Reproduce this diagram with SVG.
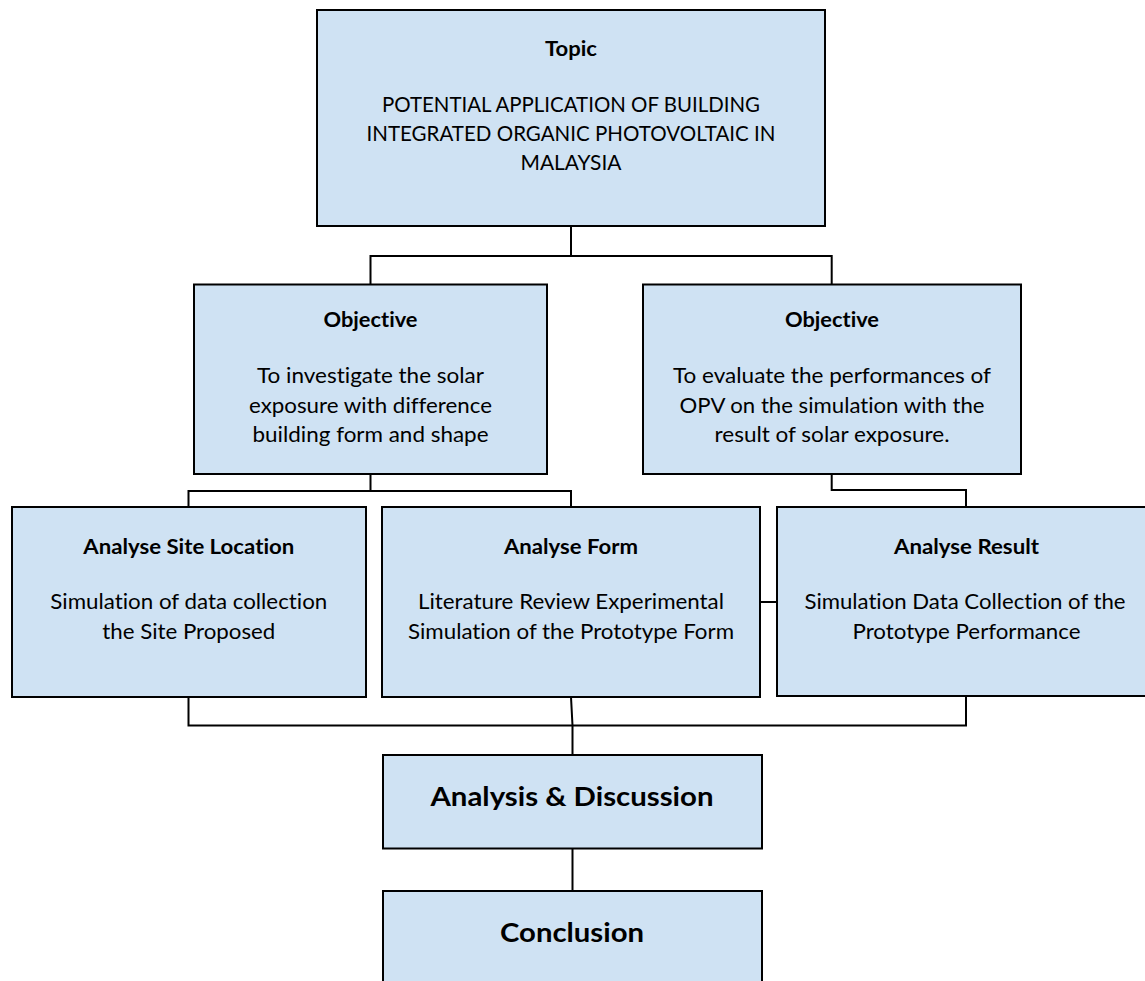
<svg xmlns="http://www.w3.org/2000/svg" width="1145" height="981" viewBox="0 0 1145 981">
<style>
.box{fill:#cfe2f3;stroke:#000;stroke-width:2}
.con{fill:none;stroke:#000;stroke-width:2}
text{font-family:Lato,"Open Sans","Liberation Sans",sans-serif;fill:#000;text-anchor:middle;font-variant-ligatures:none}
.t{font-weight:bold;font-size:21.5px}
.b{font-size:22px}
.big{font-weight:bold;font-size:27px}
</style>
<rect width="1145" height="981" fill="#fff"/>
<g id="connectors">
<path class="con" d="M571,226V256M370.5,284V256H831.7V284"/>
<path class="con" d="M370.5,474V491M188.5,507V491H571V507"/>
<path class="con" d="M831.7,474V490H966V507"/>
<path class="con" d="M760,602H777"/>
<path class="con" d="M188.5,697V725.5H966V697"/>
<path class="con" d="M571,697L572.5,725.5V755"/>
<path class="con" d="M572.5,848.5V891"/>
</g>
<g id="topic">
<rect class="box" x="317" y="10" width="508" height="216"/>
<text class="t" x="571" y="56" textLength="52" lengthAdjust="spacingAndGlyphs">Topic</text>
<text class="b" x="571" y="112" textLength="378" lengthAdjust="spacingAndGlyphs">POTENTIAL APPLICATION OF BUILDING</text>
<text class="b" x="571" y="141.3" textLength="409" lengthAdjust="spacingAndGlyphs">INTEGRATED ORGANIC PHOTOVOLTAIC IN</text>
<text class="b" x="571" y="170" textLength="101" lengthAdjust="spacingAndGlyphs">MALAYSIA</text>
</g>
<g id="objective1">
<rect class="box" x="194" y="284.5" width="353" height="189.5"/>
<text class="t" x="370.5" y="327.3" textLength="94" lengthAdjust="spacingAndGlyphs">Objective</text>
<text class="b" x="370.5" y="383.3" textLength="227" lengthAdjust="spacingAndGlyphs">To investigate the solar</text>
<text class="b" x="370.5" y="412.7" textLength="243" lengthAdjust="spacingAndGlyphs">exposure with difference</text>
<text class="b" x="370.5" y="442.3" textLength="236" lengthAdjust="spacingAndGlyphs">building form and shape</text>
</g>
<g id="objective2">
<rect class="box" x="643" y="284.5" width="378" height="189.5"/>
<text class="t" x="832" y="327.3" textLength="94" lengthAdjust="spacingAndGlyphs">Objective</text>
<text class="b" x="832" y="383.3" textLength="318" lengthAdjust="spacingAndGlyphs">To evaluate the performances of</text>
<text class="b" x="832" y="412.7" textLength="305" lengthAdjust="spacingAndGlyphs">OPV on the simulation with the</text>
<text class="b" x="832" y="442.3" textLength="235" lengthAdjust="spacingAndGlyphs">result of solar exposure.</text>
</g>
<g id="site">
<rect class="box" x="12" y="507" width="354" height="190"/>
<text class="t" x="188.8" y="554.3" textLength="211" lengthAdjust="spacingAndGlyphs">Analyse Site Location</text>
<text class="b" x="188.8" y="609.3" textLength="277" lengthAdjust="spacingAndGlyphs">Simulation of data collection</text>
<text class="b" x="188.8" y="639.3" textLength="173" lengthAdjust="spacingAndGlyphs">the Site Proposed</text>
</g>
<g id="form">
<rect class="box" x="382" y="507" width="378" height="190"/>
<text class="t" x="571" y="554.3" textLength="134" lengthAdjust="spacingAndGlyphs">Analyse Form</text>
<text class="b" x="571" y="609.3" textLength="306" lengthAdjust="spacingAndGlyphs">Literature Review Experimental</text>
<text class="b" x="571" y="639.3" textLength="326" lengthAdjust="spacingAndGlyphs">Simulation of the Prototype Form</text>
</g>
<g id="result">
<rect class="box" x="777" y="507" width="378" height="189"/>
<text class="t" x="966.5" y="554.3" textLength="145" lengthAdjust="spacingAndGlyphs">Analyse Result</text>
<text class="b" x="965" y="609.3" textLength="321" lengthAdjust="spacingAndGlyphs">Simulation Data Collection of the</text>
<text class="b" x="966.5" y="639.3" textLength="228" lengthAdjust="spacingAndGlyphs">Prototype Performance</text>
</g>
<g id="analysis">
<rect class="box" x="383" y="755" width="379" height="93.5"/>
<text class="big" x="572" y="806" textLength="283" lengthAdjust="spacingAndGlyphs">Analysis &amp; Discussion</text>
</g>
<g id="conclusion">
<rect class="box" x="383" y="891" width="379" height="110"/>
<text class="big" x="572" y="941.7" textLength="144" lengthAdjust="spacingAndGlyphs">Conclusion</text>
</g>
</svg>
